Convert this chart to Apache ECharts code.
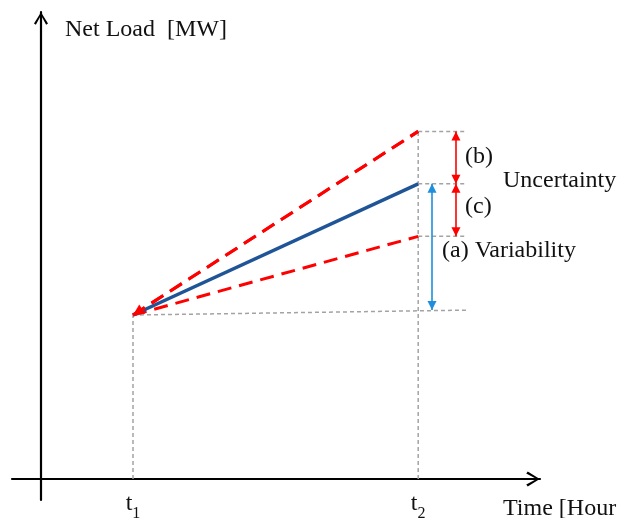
<!DOCTYPE html>
<html>
<head>
<meta charset="utf-8">
<script src="https://cdn.jsdelivr.net/npm/echarts@6/dist/echarts.min.js"></script>
<style>
html,body{margin:0;padding:0;background:#fff;}
#chart{width:619px;height:518px;}
</style>
</head>
<body>
<div id="chart"></div>
<script>
// ---- data ----
const timePoints = [1, 4.1];              // t1, t2 (hours)
const tickLabels = [['t', '1'], ['t', '2']];
const startLoad = 50;                      // net load at t1
const forecastEnd = 90;                    // expected net load at t2
const upperEnd = 106;                      // upper bound at t2
const lowerEnd = 74;                       // lower bound at t2
const refEndX = 4.63;                      // end of reference dashes
const baseEnd = 51.5;                      // reference line end level
const arrowUncX = 4.51;                    // uncertainty arrows
const arrowVarX = 4.25;                    // variability arrow
const annotations = ['(b)', '(c)', 'Uncertainty', '(a) Variability'];
const yAxisTitle = 'Net Load  [MW]';
const xAxisTitle = 'Time [Hour';

const FONT = '"Liberation Serif","Times New Roman",serif';
const chevron = 'path://M7.5,0 L15,12 L13,13.5 L7.5,3.2 L2,13.5 L0,12 Z';
const tri = 'path://M4,0 L8,10 L0,10 Z';
const gray = {color: '#a3a3a3', width: 1.5, type: [4, 3]};

function seg(p, style) {
  return {type: 'line', data: p, symbol: 'none', silent: true, lineStyle: style, z: 1};
}
function dbl(x, y1, y2, color) {
  const ls = {color: color, width: 1.6, type: 'solid'};
  const is = {color: color};
  return [{coord: [x, y1], lineStyle: ls, itemStyle: is}, {coord: [x, y2], lineStyle: ls, itemStyle: is}];
}

const t1 = timePoints[0], t2 = timePoints[1];
const series = [
  seg([[t1, 0], [t1, startLoad]], gray),
  seg([[t2, 0], [t2, upperEnd]], gray),
  seg([[t2, upperEnd], [refEndX, upperEnd]], gray),
  seg([[t2, forecastEnd], [refEndX, forecastEnd]], gray),
  seg([[t2, lowerEnd], [refEndX, lowerEnd]], gray),
  seg([[t1, startLoad], [refEndX, baseEnd]], gray),
  seg([[t1, startLoad], [t2, lowerEnd]], {color: '#ff0000', width: 3, type: [14, 8]}),
  {
    type: 'line', data: [[t1, startLoad], [t2, upperEnd]], symbol: 'none', silent: true,
    lineStyle: {color: '#ff0000', width: 3, type: [14, 8]}, z: 2,
    markLine: {
      silent: true, animation: false, label: {show: false},
      symbol: [tri, 'none'], symbolSize: 11, symbolOffset: [[0, 5.5], 0],
      lineStyle: {color: '#ff0000', width: 3, type: [14, 8]},
      itemStyle: {color: '#ff0000'},
      data: [[{coord: [t1, startLoad]}, {coord: [t2, upperEnd]}]]
    }
  },
  seg([[t1, startLoad], [t2, forecastEnd]], {color: '#1f5597', width: 3.5, type: 'solid'}),
  {
    type: 'line', data: [], silent: true,
    markLine: {
      silent: true, animation: false, label: {show: false},
      symbol: [tri, tri], symbolSize: 9, symbolOffset: [[0, 4.5], [0, 4.5]],
      data: [
        dbl(arrowUncX, upperEnd, forecastEnd, '#ff0000'),
        dbl(arrowUncX, forecastEnd, lowerEnd, '#ff0000'),
        dbl(arrowVarX, forecastEnd, baseEnd, '#1e8fdc')
      ]
    }
  }
];

const txt = (s, x, y) => ({type: 'text', x: x, y: y, silent: true,
  style: {text: s, font: '24px ' + FONT, fill: '#111', verticalAlign: 'middle', align: 'left'}});

const chart = echarts.init(document.getElementById('chart'), null, {renderer: 'canvas'});
chart.setOption({
  animation: false,
  backgroundColor: '#fff',
  grid: {left: 12, right: 79, top: 12, bottom: 18, containLabel: false, outerBoundsMode: 'none'},
  xAxis: {
    type: 'value', min: -0.3152, max: 5.424,
    splitLine: {show: false}, axisTick: {show: false},
    axisLine: {onZero: true, lineStyle: {color: '#000', width: 2.2},
      symbol: ['none', chevron], symbolSize: [15, 14], symbolOffset: [0, -7]},
    axisLabel: {
      customValues: timePoints, margin: -8, verticalAlign: 'top',
      formatter: v => { const i = timePoints.indexOf(v); return i < 0 ? '' : '{a|' + tickLabels[i][0] + '}{b|' + tickLabels[i][1] + '}'; },
      rich: {
        a: {fontFamily: FONT, fontSize: 24, color: '#111', lineHeight: 24, verticalAlign: 'top'},
        b: {fontFamily: FONT, fontSize: 16, color: '#111', lineHeight: 30, verticalAlign: 'bottom'}
      }
    }
  },
  yAxis: {
    type: 'value', min: -6.4, max: 142.4,
    splitLine: {show: false}, axisTick: {show: false}, axisLabel: {show: false},
    axisLine: {onZero: true, lineStyle: {color: '#000', width: 2.2},
      symbol: ['none', chevron], symbolSize: [14, 13], symbolOffset: [0, -6.5]}
  },
  graphic: [
    txt(yAxisTitle, 65, 30),
    txt(xAxisTitle, 503, 509),
    txt(annotations[0], 465, 157),
    txt(annotations[1], 465, 207),
    txt(annotations[2], 503, 181),
    txt(annotations[3], 442, 251)
  ],
  series: series
});
</script>
</body>
</html>
